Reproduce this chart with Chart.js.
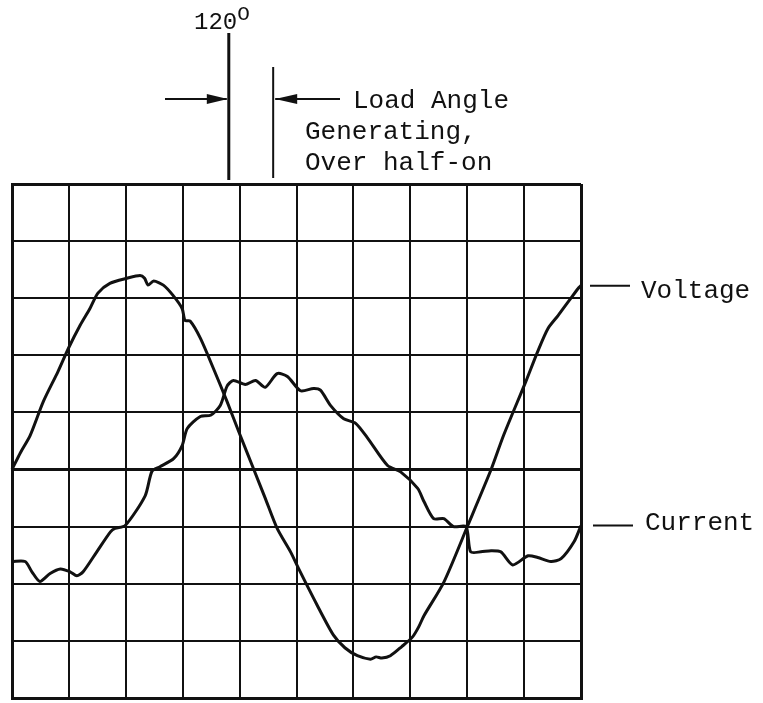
<!DOCTYPE html>
<html>
<head>
<meta charset="utf-8">
<script src="https://cdn.jsdelivr.net/npm/chart.js@4"></script>
<style>
  body { margin: 0; background: #fff; }
  #wrap { position: relative; width: 763px; height: 703px; }
  canvas { position: absolute; left: 0; top: 0; }
  .lbl { position: absolute; font-family: "Liberation Mono", "DejaVu Sans Mono", monospace; font-size: 26px; color: #111; white-space: pre; line-height: 1; }
  .deg { font-size: 24px; }
  .sup { font-size: 21px; position: relative; top: -9px; }
</style>
</head>
<body>
<div id="wrap">
  <canvas id="scope" width="763" height="703"></canvas>
  <div class="lbl deg" style="left:194px; top:11px;">120<span class="sup">O</span></div>
  <div class="lbl" style="left:353px; top:88px;">Load Angle</div>
  <div class="lbl" style="left:305px; top:119px;">Generating,</div>
  <div class="lbl" style="left:305px; top:150px;">Over half-on</div>
  <div class="lbl" style="left:641px; top:278px;">Voltage</div>
  <div class="lbl" style="left:645px; top:510px;">Current</div>
</div>
<script>
// time axis in screen divisions, amplitude in divisions
const voltageT = [0, 0.15, 0.32, 0.55, 0.81, 0.99, 1.2, 1.37, 1.51, 1.72, 2.02, 2.25, 2.33, 2.39, 2.49, 2.66, 2.83, 2.99, 3.04, 3.13, 3.31, 3.54, 3.78, 4.01, 4.25, 4.45, 4.66, 4.9, 5.04, 5.35, 5.65, 5.85, 6.07, 6.3, 6.4, 6.5, 6.65, 6.85, 7.04, 7.15, 7.24, 7.59, 8.01, 8.42, 8.64, 9.03, 9.24, 9.42, 9.6, 9.8, 9.95, 10];
const voltageV = [0, 0.3, 0.6, 1.19, 1.72, 2.12, 2.53, 2.82, 3.09, 3.26, 3.35, 3.4, 3.35, 3.23, 3.3, 3.23, 3.05, 2.82, 2.61, 2.6, 2.3, 1.77, 1.19, 0.6, 0, -0.5, -1.03, -1.45, -1.74, -2.35, -2.9, -3.12, -3.26, -3.32, -3.28, -3.3, -3.26, -3.1, -2.93, -2.75, -2.56, -1.97, -0.98, 0, 0.6, 1.54, 2.07, 2.47, 2.7, 2.97, 3.17, 3.22];

const currentT = [0, 0.23, 0.35, 0.49, 0.67, 0.85, 1.02, 1.14, 1.25, 1.49, 1.73, 1.81, 1.99, 2.34, 2.46, 2.6, 2.84, 2.99, 3.08, 3.31, 3.49, 3.66, 3.78, 3.89, 4.1, 4.28, 4.45, 4.66, 4.84, 5.07, 5.3, 5.42, 5.6, 5.83, 6.04, 6.25, 6.6, 6.83, 7.13, 7.24, 7.41, 7.59, 7.76, 7.98, 8.06, 8.24, 8.42, 8.59, 8.8, 9.07, 9.24, 9.47, 9.65, 9.88, 10];
const currentI = [-1.61, -1.61, -1.79, -1.96, -1.82, -1.74, -1.79, -1.86, -1.79, -1.44, -1.09, -1.03, -0.98, -0.46, -0.03, 0.05, 0.19, 0.42, 0.72, 0.93, 0.95, 1.12, 1.46, 1.56, 1.49, 1.56, 1.44, 1.68, 1.63, 1.38, 1.42, 1.39, 1.12, 0.89, 0.81, 0.55, 0.07, -0.04, -0.33, -0.56, -0.86, -0.86, -1, -1, -1.44, -1.44, -1.42, -1.44, -1.67, -1.51, -1.54, -1.61, -1.56, -1.26, -0.98];

// screen graticule
const xMin = 0, xMax = 10;
const yMin = -4, yMax = 5;

// load angle markers (in time divisions)
const markerT = [3.81, 4.59];

const ink = '#111';

function toPoints(xs, ys) {
  return xs.map((x, i) => ({ x: x, y: ys[i] }));
}

// draws the load angle markers and the legend dashes
const markers = {
  id: 'markers',
  afterDraw(chart) {
    const ctx = chart.ctx;
    const xs = chart.scales.x;
    const ys = chart.scales.y;
    const top = chart.chartArea.top;
    const x1 = xs.getPixelForValue(markerT[0]);
    const x2 = xs.getPixelForValue(markerT[1]);
    ctx.save();
    ctx.strokeStyle = ink;
    ctx.fillStyle = ink;
    ctx.lineWidth = 3;
    ctx.beginPath(); ctx.moveTo(x1, 33); ctx.lineTo(x1, top - 4); ctx.stroke();
    ctx.lineWidth = 2;
    ctx.beginPath(); ctx.moveTo(x2, 67); ctx.lineTo(x2, top - 6); ctx.stroke();

    const ay = 99;
    ctx.lineWidth = 2;
    ctx.beginPath(); ctx.moveTo(165, ay); ctx.lineTo(x1 - 2, ay); ctx.stroke();
    ctx.beginPath(); ctx.moveTo(x1 - 1, ay); ctx.lineTo(x1 - 22, ay - 5); ctx.lineTo(x1 - 22, ay + 5); ctx.closePath(); ctx.fill();
    ctx.beginPath(); ctx.moveTo(x2 + 2, ay); ctx.lineTo(340, ay); ctx.stroke();
    ctx.beginPath(); ctx.moveTo(x2 + 2, ay); ctx.lineTo(x2 + 24, ay - 5); ctx.lineTo(x2 + 24, ay + 5); ctx.closePath(); ctx.fill();

    // legend dashes at the trace ends
    const right = chart.chartArea.right;
    ctx.lineWidth = 2;
    const vy = ys.getPixelForValue(voltageV[voltageV.length - 1]);
    const cy = ys.getPixelForValue(currentI[currentI.length - 1]);
    ctx.beginPath(); ctx.moveTo(right + 9, vy); ctx.lineTo(right + 49, vy); ctx.stroke();
    ctx.beginPath(); ctx.moveTo(right + 12, cy); ctx.lineTo(right + 52, cy); ctx.stroke();
    ctx.restore();
  }
};

function gridWidth(edgeValues) {
  return function(context) {
    const v = context.tick ? context.tick.value : null;
    return edgeValues.indexOf(v) >= 0 ? 3 : 2;
  };
}

new Chart(document.getElementById('scope'), {
  type: 'line',
  data: {
    datasets: [
      {
        label: 'Voltage',
        data: toPoints(voltageT, voltageV),
        borderColor: ink,
        borderWidth: 3,
        pointRadius: 0,
        tension: 0.25,
        clip: false
      },
      {
        label: 'Current',
        data: toPoints(currentT, currentI),
        borderColor: ink,
        borderWidth: 3,
        pointRadius: 0,
        tension: 0.25,
        clip: false
      }
    ]
  },
  options: {
    responsive: false,
    animation: false,
    layout: { padding: { left: 12, top: 184, right: 182, bottom: 5 } },
    plugins: { legend: { display: false }, tooltip: { enabled: false } },
    scales: {
      x: {
        type: 'linear',
        min: xMin,
        max: xMax,
        ticks: { display: false, stepSize: 1 },
        grid: { color: ink, lineWidth: gridWidth([xMin, xMax]), drawTicks: false },
        border: { display: true, color: ink, width: 3 }
      },
      y: {
        min: yMin,
        max: yMax,
        ticks: { display: false, stepSize: 1 },
        grid: { color: ink, lineWidth: gridWidth([yMin, yMax, 0]), drawTicks: false },
        border: { display: true, color: ink, width: 3 }
      }
    }
  },
  plugins: [markers]
});
</script>
</body>
</html>
